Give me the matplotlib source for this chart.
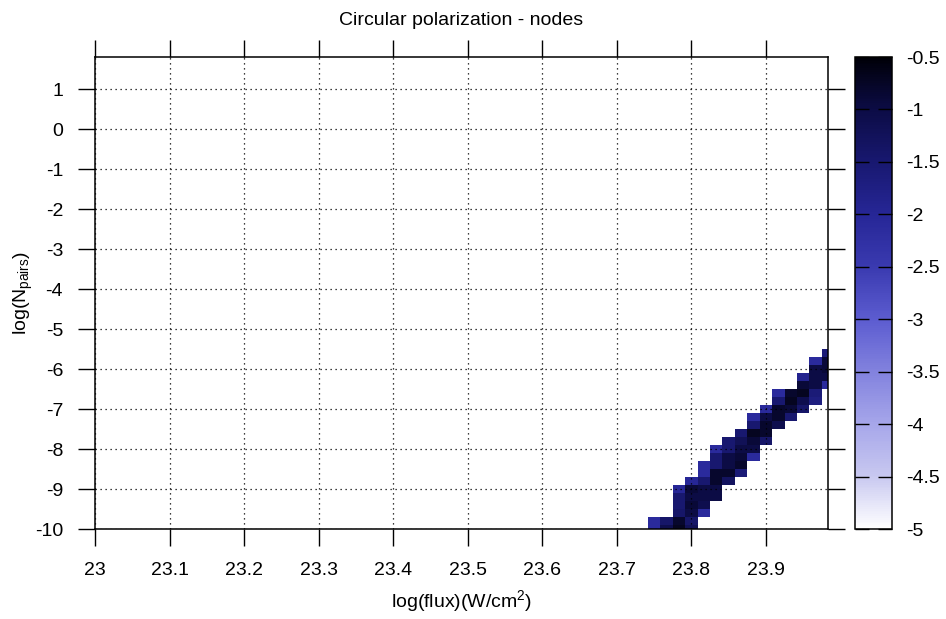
import numpy as np
import matplotlib
matplotlib.use('Agg')
import matplotlib.pyplot as plt
from matplotlib.colors import LinearSegmentedColormap

plt.rcParams['font.family'] = ['Liberation Sans', 'DejaVu Sans']
plt.rcParams['mathtext.default'] = 'regular'
plt.rcParams['axes.unicode_minus'] = False

# binning of the histogram: 60 flux bins x 60 log(N) bins
n_flux, n_pairs = 60, 60
flux_start, flux_step = 23.0, 1.0 / 60
pairs_start, pairs_step = -10.0, 0.2

# occupied cells: flux bin index, pair bin index, log value
cell_ix = [45, 45,
           46, 46,
           47, 47, 47, 47, 47, 47,
           48, 48, 48, 48, 48, 48, 48,
           49, 49, 49, 49, 49, 49, 49,
           50, 50, 50, 50, 50, 50, 50,
           51, 51, 51, 51, 51, 51,
           52, 52, 52, 52, 52, 52,
           53, 53, 53, 53, 53, 53,
           54, 54, 54, 54, 54,
           55, 55, 55, 55, 55,
           56, 56, 56, 56,
           57, 57, 57, 57, 57,
           58, 58, 58, 58, 58, 58,
           59, 59, 59, 59, 59]
cell_iy = [0, 1,
           0, 1,
           0, 1, 2, 3, 4, 5,
           0, 1, 2, 3, 4, 5, 6,
           2, 3, 4, 5, 6, 7, 8,
           4, 5, 6, 7, 8, 9, 10,
           6, 7, 8, 9, 10, 11,
           7, 8, 9, 10, 11, 12,
           9, 10, 11, 12, 13, 14,
           11, 12, 13, 14, 15,
           13, 14, 15, 16, 17,
           14, 15, 16, 17,
           15, 16, 17, 18, 19,
           16, 17, 18, 19, 20, 21,
           18, 19, 20, 21, 22]
cell_val = [-2.1, -2.1,
            -1.1, -1.4,
            -0.7, -0.8, -1.4, -1.5, -1.5, -2.0,
            -1.2, -1.4, -1.0, -0.9, -1.0, -0.9, -2.0,
            -2.1, -1.1, -1.0, -1.0, -1.5, -2.1, -2.1,
            -1.0, -1.0, -0.8, -0.8, -1.5, -1.5, -2.1,
            -1.3, -0.8, -1.0, -1.0, -1.5, -1.5,
            -1.6, -0.8, -0.9, -1.0, -1.2, -1.5,
            -2.1, -1.0, -0.9, -0.7, -1.5, -2.1,
            -1.4, -0.8, -0.8, -1.0, -2.1,
            -1.1, -0.8, -0.8, -1.5, -2.1,
            -1.5, -0.9, -0.7, -0.8,
            -1.4, -1.1, -0.7, -0.9, -1.9,
            -1.7, -1.6, -1.0, -1.0, -1.0, -2.1,
            -2.1, -1.0, -0.9, -0.9, -1.6]

xticks = [23.0, 23.1, 23.2, 23.3, 23.4, 23.5, 23.6, 23.7, 23.8, 23.9]
xticklabels = ['23', '23.1', '23.2', '23.3', '23.4', '23.5', '23.6', '23.7', '23.8', '23.9']
yticks = [-10, -9, -8, -7, -6, -5, -4, -3, -2, -1, 0, 1]
cbticks = [-5, -4.5, -4, -3.5, -3, -2.5, -2, -1.5, -1, -0.5]
cbticklabels = ['-5', '-4.5', '-4', '-3.5', '-3', '-2.5', '-2', '-1.5', '-1', '-0.5']

z = np.full((n_pairs, n_flux), np.nan)
z[cell_iy, cell_ix] = cell_val

x_edges = flux_start + (np.arange(n_flux + 1) - 0.5) * flux_step
y_edges = pairs_start + (np.arange(n_pairs + 1) - 0.5) * pairs_step

cmap = LinearSegmentedColormap.from_list('wbk', [
    (0.0, '#ffffff'), (0.111, '#c8c8f0'), (0.222, '#a6a6ea'),
    (0.333, '#8282de'), (0.444, '#5c5cd0'), (0.556, '#3a3ab0'),
    (0.667, '#262696'), (0.778, '#181870'), (0.889, '#0c0c46'),
    (1.0, '#000008')])

fs = 14

fig = plt.figure(figsize=(9.46, 6.19), dpi=100)
ax = fig.add_axes([95 / 946, 90 / 619, 733 / 946, 472 / 619])
cax = fig.add_axes([855 / 946, 90 / 619, 37 / 946, 472 / 619])

mesh = ax.pcolormesh(x_edges, y_edges, np.ma.masked_invalid(z), cmap=cmap,
                     vmin=-5, vmax=-0.5, shading='flat')
ax.set_xlim(flux_start, flux_start + (n_flux - 1) * flux_step)
ax.set_ylim(pairs_start, pairs_start + (n_pairs - 1) * pairs_step)

ax.set_xticks(xticks)
ax.set_xticklabels(xticklabels)
ax.set_yticks(yticks)
ax.tick_params(direction='out', length=12, width=1, top=True, right=True,
               labelsize=fs, colors='black')
ax.tick_params(axis='x', pad=12)
ax.tick_params(axis='y', pad=11)
ax.grid(True, linestyle=(0, (1, 3)), color='black', linewidth=0.9)
ax.set_axisbelow(False)
for s in ax.spines.values():
    s.set_linewidth(1.1)

ax.set_title('Circular polarization - nodes', fontsize=fs, pad=23)
ax.set_xlabel(r'log(flux)(W/cm$^{2}$)', fontsize=fs)
ax.xaxis.set_label_coords(0.5, -0.125)
ax.set_ylabel(r'log(N$_{pairs}$)', fontsize=fs)
ax.yaxis.set_label_coords(-0.082, 0.5)

cb = fig.colorbar(mesh, cax=cax, ticks=cbticks)
cb.ax.set_yticklabels(cbticklabels)
cb.ax.tick_params(direction='in', length=10, width=1, left=True, right=True,
                  labelsize=fs, pad=10)
cb.outline.set_linewidth(1.1)

fig.savefig('out.png', dpi=100)
